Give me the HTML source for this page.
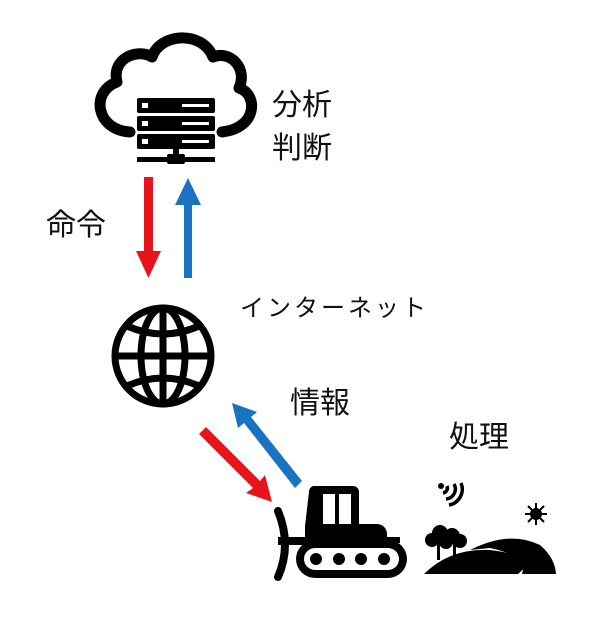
<!DOCTYPE html>
<html><head><meta charset="utf-8"><style>
html,body{margin:0;padding:0;background:#fff;width:600px;height:624px;overflow:hidden}
svg{display:block}
text{font-family:"Liberation Sans","Noto Sans CJK JP",sans-serif;fill:#111}
</style></head><body>
<svg width="600" height="624" viewBox="0 0 600 624" xmlns="http://www.w3.org/2000/svg">
<path d="M130,132 C96,130 90,92 117,82 C111,58 138,48 152,57 C160,33 202,30 213,57 C230,50 248,68 239,88 C258,94 258,128 222,132" fill="none" stroke="#000" stroke-width="11" stroke-linecap="round" stroke-linejoin="round"/>
<g fill="#000">
<rect x="137" y="98" width="78" height="15" rx="2"/>
<rect x="137" y="116" width="78" height="15" rx="2"/>
<rect x="137" y="134" width="78" height="15" rx="2"/>
<rect x="137" y="157" width="78" height="5"/>
<rect x="173" y="148" width="6" height="10"/>
<rect x="167" y="154" width="18" height="10" rx="2"/>
</g>
<g fill="#fff">
<rect x="142" y="103" width="6" height="5"/><rect x="142" y="121" width="6" height="5"/><rect x="142" y="139" width="6" height="5"/>
<rect x="182" y="104" width="27" height="3"/><rect x="182" y="122" width="27" height="3"/><rect x="182" y="140" width="27" height="3"/>
</g>
<polygon points="144,177 153,177 153,251 161,251 148.5,278 136,251 144,251" fill="#e8141c"/>
<polygon points="184,278 192,278 192,205 201,205 188,178 175,205 184,205" fill="#1a73c1"/>
<g fill="none" stroke="#000" stroke-width="7">
<circle cx="163" cy="356" r="48"/>
<ellipse cx="163" cy="356" rx="22" ry="48"/>
<line x1="163" y1="308" x2="163" y2="404"/>
<line x1="115" y1="356" x2="211" y2="356"/>
<path d="M127,326 Q163,342 199,326"/>
<path d="M127,386 Q163,370 199,386"/>
</g>
<polygon points="199,434 206,427 260,481 265,475 272,502 246,493 253,488" fill="#e8141c"/>
<polygon points="302,481 295,488 244,423 238,428 232,403 257,412 251,417" fill="#1a73c1"/>
<g fill="#000">
<path d="M313,486 h40 a6,6 0 0 1 6,6 v32 h18 a10,10 0 0 1 10,10 v4 h-82 v-12 l4,-34 a6,6 0 0 1 4,-6 z"/>
<rect x="300" y="537" width="100" height="6"/>
<rect x="292" y="537" width="16" height="5"/>
<rect x="296" y="540" width="111" height="38" rx="19"/>
<path d="M278,511 q14,34 0,66" fill="none" stroke="#000" stroke-width="8" stroke-linecap="round"/>
<rect x="278" y="537" width="30" height="8"/>
</g>
<rect x="323" y="494" width="12" height="30" fill="#fff"/>
<rect x="339" y="494" width="12" height="30" fill="#fff"/>
<rect x="304" y="548" width="95" height="22" rx="11" fill="#fff"/>
<g fill="#000"><circle cx="316" cy="559" r="6"/><circle cx="339" cy="559" r="6"/><circle cx="361" cy="559" r="6"/><circle cx="384" cy="559" r="6"/></g>
<path d="M424,574 Q450,548 490,550 Q540,556 518,574 Z" fill="#000"/>
<path d="M470,550 Q510,530 540,545 Q555,558 556,574 L522,574 Q528,556 490,548 Z" fill="#000"/>
<g fill="#000">
<circle cx="432" cy="540" r="7"/><circle cx="440" cy="533" r="8"/><circle cx="446" cy="542" r="7"/>
<rect x="437" y="540" width="3" height="20"/>
<circle cx="452" cy="536" r="8"/><circle cx="460" cy="541" r="7"/>
<rect x="453" y="540" width="3" height="16"/>
<circle cx="441" cy="486" r="3"/>
<circle cx="536" cy="514" r="6"/>
</g>
<g fill="none" stroke="#000" stroke-width="3.5">
<path d="M447,486 a5,5 0 0 1 -4,7"/>
<path d="M454,484 a10,10 0 0 1 -8,15"/>
<path d="M461,483 a16,16 0 0 1 -12,22"/>
</g>
<g stroke="#000" stroke-width="2">
<line x1="536" y1="503" x2="536" y2="525"/><line x1="525" y1="514" x2="547" y2="514"/>
<line x1="528" y1="506" x2="544" y2="522"/><line x1="544" y1="506" x2="528" y2="522"/>
</g>
<text x="272" y="115" font-size="30">分析</text>
<text x="272" y="158" font-size="30">判断</text>
<text x="46" y="235" font-size="30">命令</text>
<text x="240" y="316" font-size="24" letter-spacing="3">インターネット</text>
<text x="290" y="413" font-size="30">情報</text>
<text x="449" y="447" font-size="30">処理</text>
</svg>
</body></html>
